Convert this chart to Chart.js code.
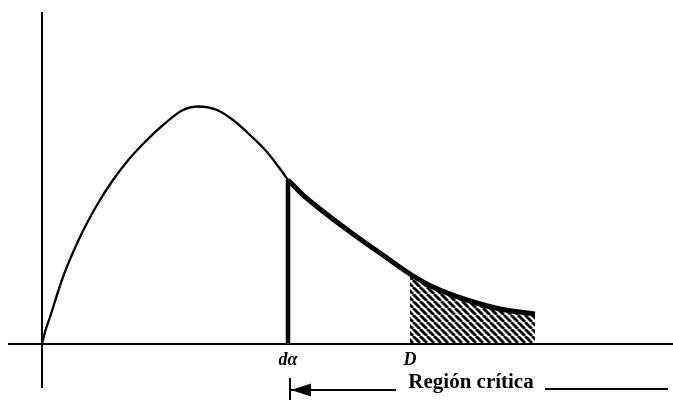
<!DOCTYPE html>
<html><head><meta charset="utf-8">
<script src="https://cdn.jsdelivr.net/npm/chart.js@4/dist/chart.umd.min.js"></script>
<style>html,body{margin:0;padding:0;background:#fff}#wrap{width:673px;height:400px;position:relative}</style>
</head><body><div id="wrap"><canvas id="c" width="673" height="400"></canvas></div>
<script>
// Density curve, left part (thin line) up to dα
const bodyX = [0, 0.3, 0.8, 2.1, 3.8, 5.5, 7.1, 8.8, 10.5, 12.1, 14.1, 15.6, 17.5, 19.1, 20.8, 22.5, 24.1, 24.6];
const bodyY = [0, 1.2, 2.7, 6.7, 10.7, 13.9, 16.4, 18.6, 20.4, 21.9, 23.4, 23.75, 23.4, 22.4, 20.9, 19.2, 17.1, 16.4];
// Density curve, right tail (thick line) from dα onward
const tailX = [24.6, 26.1, 27.8, 31.1, 34.5, 36.8, 39.1, 42.5, 45.8, 49.3];
const tailY = [16.4, 14.9, 13.5, 11.0, 8.6, 7.0, 5.7, 4.4, 3.5, 3.0];
// Critical values on the x axis
const criticalValues = [24.6, 36.8];
const criticalLabels = ['dα', 'D'];
const regionLabel = 'Región crítica';

const pts = (xs, ys) => xs.map((x, i) => ({x, y: ys[i]}));
const dAlpha = criticalValues[0];
const dStat = criticalValues[1];
const hatchPts = pts(tailX, tailY).filter(p => p.x >= dStat);

const canvas = document.getElementById('c');
const ctx0 = canvas.getContext('2d');
function makeHatch() {
  const s = 7;
  const c = document.createElement('canvas');
  c.width = s; c.height = s;
  const g = c.getContext('2d');
  g.strokeStyle = '#000';
  g.lineWidth = 2.8;
  for (let k = -1; k <= 1; k++) {
    g.beginPath(); g.moveTo(k * s, 0); g.lineTo(k * s + s, s); g.stroke();
  }
  return ctx0.createPattern(c, 'repeat');
}

const decor = {
  id: 'decor',
  beforeDatasetsDraw(chart) {
    const {ctx} = chart;
    const xs = chart.scales.x, ys = chart.scales.y;
    const x0 = xs.getPixelForValue(0), y0 = ys.getPixelForValue(0);
    ctx.save();
    ctx.strokeStyle = '#000';
    ctx.lineWidth = 2;
    ctx.beginPath();
    ctx.moveTo(8, y0); ctx.lineTo(673, y0);
    ctx.moveTo(x0, 12); ctx.lineTo(x0, 388);
    ctx.stroke();
    ctx.restore();
  },
  afterDatasetsDraw(chart) {
    const {ctx} = chart;
    const xs = chart.scales.x, ys = chart.scales.y;
    const y0 = ys.getPixelForValue(0);
    ctx.save();
    ctx.fillStyle = '#000';
    ctx.strokeStyle = '#000';
    ctx.textAlign = 'center';
    ctx.textBaseline = 'alphabetic';
    ctx.font = 'italic bold 18px "Liberation Serif"';
    criticalValues.forEach((v, i) => {
      ctx.fillText(criticalLabels[i], xs.getPixelForValue(v), y0 + 21);
    });
    // Región crítica arrow
    const xa = xs.getPixelForValue(dAlpha) + 2;
    const ya = y0 + 46;
    ctx.lineWidth = 2;
    ctx.beginPath();
    ctx.moveTo(xa, y0 + 34); ctx.lineTo(xa, 400);
    ctx.moveTo(xa, ya); ctx.lineTo(xa + 106, ya);
    ctx.stroke();
    ctx.beginPath();
    ctx.moveTo(xa + 1, ya); ctx.lineTo(xa + 21, ya - 6.5); ctx.lineTo(xa + 21, ya + 6.5); ctx.closePath();
    ctx.fill();
    ctx.font = 'bold 21px "Liberation Serif"';
    ctx.fillText(regionLabel, 471, y0 + 44);
    ctx.beginPath();
    ctx.moveTo(545, ya - 1); ctx.lineTo(668, ya - 1);
    ctx.stroke();
    ctx.restore();
  }
};

new Chart(canvas, {
  type: 'line',
  data: {
    datasets: [
      {data: hatchPts, borderWidth: 0, pointRadius: 0, fill: 'origin', backgroundColor: makeHatch(), cubicInterpolationMode: 'monotone'},
      {data: pts(bodyX, bodyY), borderColor: '#000', borderWidth: 2.3, pointRadius: 0, fill: false, cubicInterpolationMode: 'monotone', borderCapStyle: 'round'},
      {data: pts(tailX, tailY), borderColor: '#000', borderWidth: 5, pointRadius: 0, fill: false, cubicInterpolationMode: 'monotone', borderCapStyle: 'butt'},
      {data: [{x: dAlpha, y: 0}, {x: dAlpha, y: tailY[0]}], borderColor: '#000', borderWidth: 4.5, pointRadius: 0, fill: false}
    ]
  },
  options: {
    responsive: false,
    animation: false,
    layout: {padding: 0},
    plugins: {legend: {display: false}, tooltip: {enabled: false}},
    scales: {
      x: {type: 'linear', min: -4.2, max: 63.1, display: false},
      y: {type: 'linear', min: -5.6, max: 34.4, display: false}
    }
  },
  plugins: [decor]
});
</script>
</body></html>
